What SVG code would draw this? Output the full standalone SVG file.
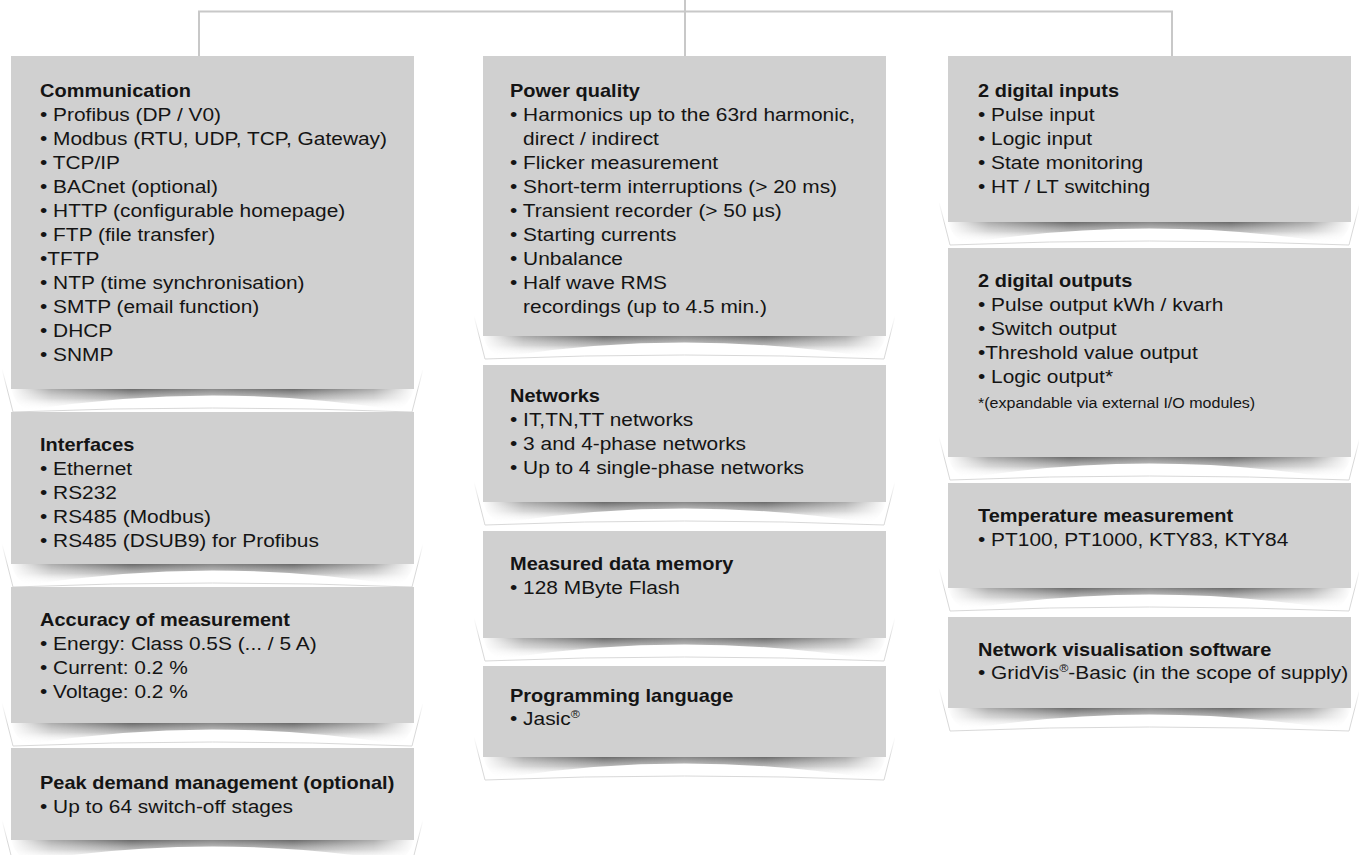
<svg xmlns="http://www.w3.org/2000/svg" xmlns:xlink="http://www.w3.org/1999/xlink" width="1359" height="855" viewBox="0 0 1359 855">
<style>
.box{fill:#d0d0d0}
.txt{font-family:"Liberation Sans",Arial,sans-serif;font-size:18.5px;fill:#141414}
.ttl{font-weight:bold;font-size:17.7px}
.note{font-size:14.2px}
.sup{font-size:11px}
.conn{stroke:#c8c8c8;stroke-width:2;fill:none}
</style>
<defs>
<linearGradient id="shv" x1="0" y1="0" x2="0" y2="1">
<stop offset="0" stop-color="#6a6a6a" stop-opacity="1"/>
<stop offset="0.45" stop-color="#9a9a9a" stop-opacity="0.7"/>
<stop offset="1" stop-color="#ffffff" stop-opacity="0"/>
</linearGradient>
<linearGradient id="shh" x1="0" y1="0" x2="1" y2="0">
<stop offset="0" stop-color="#fff" stop-opacity="0"/>
<stop offset="0.1" stop-color="#fff" stop-opacity="0.55"/>
<stop offset="0.3" stop-color="#fff" stop-opacity="1"/>
<stop offset="0.5" stop-color="#fff" stop-opacity="0.8"/>
<stop offset="0.7" stop-color="#fff" stop-opacity="1"/>
<stop offset="0.9" stop-color="#fff" stop-opacity="0.55"/>
<stop offset="1" stop-color="#fff" stop-opacity="0"/>
</linearGradient>
<linearGradient id="frg" x1="0" y1="0" x2="0" y2="1">
<stop offset="0" stop-color="#d8d8d8" stop-opacity="0"/>
<stop offset="0.5" stop-color="#d8d8d8" stop-opacity="1"/>
<stop offset="1" stop-color="#d8d8d8" stop-opacity="1"/>
</linearGradient>
<mask id="shm" maskUnits="userSpaceOnUse" x="-20" y="-30" width="443" height="70">
<rect x="0" y="-2" width="403" height="30" fill="url(#shh)"/>
</mask>
<g id="shadow">
<path d="M-9,-20 L2,23 Q201.5,15 401,23 L412,-20" fill="none" stroke="url(#frg)" stroke-width="1"/>
<path d="M0,0 H403 C400,10 395,18 385,21 Q201.5,-8 18,21 C8,18 3,10 0,0 Z" fill="url(#shv)" mask="url(#shm)"/>
</g>
</defs>

<g id="connectors">
<path class="conn" d="M685,0 V56 M199,56 V11.5 H1172 V56"/>
</g>

<g id="n-communication">
<use href="#shadow" x="11" y="389"/>
<rect class="box" x="11" y="56" width="403" height="333"/>
<text class="txt" transform="translate(40,97) scale(1.13,1)">
<tspan class="ttl" x="0" y="0">Communication</tspan>
<tspan x="0" y="24">• Profibus (DP / V0)</tspan>
<tspan x="0" y="48">• Modbus (RTU, UDP, TCP, Gateway)</tspan>
<tspan x="0" y="72">• TCP/IP</tspan>
<tspan x="0" y="96">• BACnet (optional)</tspan>
<tspan x="0" y="120">• HTTP (configurable homepage)</tspan>
<tspan x="0" y="144">• FTP (file transfer)</tspan>
<tspan x="0" y="168">•TFTP</tspan>
<tspan x="0" y="192">• NTP (time synchronisation)</tspan>
<tspan x="0" y="216">• SMTP (email function)</tspan>
<tspan x="0" y="240">• DHCP</tspan>
<tspan x="0" y="264">• SNMP</tspan>
</text>
</g>

<g id="n-interfaces">
<use href="#shadow" x="11" y="564"/>
<rect class="box" x="11" y="412" width="403" height="152"/>
<text class="txt" transform="translate(40,451) scale(1.13,1)">
<tspan class="ttl" x="0" y="0">Interfaces</tspan>
<tspan x="0" y="24">• Ethernet</tspan>
<tspan x="0" y="48">• RS232</tspan>
<tspan x="0" y="72">• RS485 (Modbus)</tspan>
<tspan x="0" y="96">• RS485 (DSUB9) for Profibus</tspan>
</text>
</g>

<g id="n-accuracy">
<use href="#shadow" x="11" y="723"/>
<rect class="box" x="11" y="587" width="403" height="136"/>
<text class="txt" transform="translate(40,626) scale(1.13,1)">
<tspan class="ttl" x="0" y="0">Accuracy of measurement</tspan>
<tspan x="0" y="24">• Energy: Class 0.5S (... / 5 A)</tspan>
<tspan x="0" y="48">• Current: 0.2 %</tspan>
<tspan x="0" y="72">• Voltage: 0.2 %</tspan>
</text>
</g>

<g id="n-peak">
<use href="#shadow" x="11" y="840"/>
<rect class="box" x="11" y="748" width="403" height="92"/>
<text class="txt" transform="translate(40,789) scale(1.13,1)">
<tspan class="ttl" x="0" y="0">Peak demand management (optional)</tspan>
<tspan x="0" y="24">• Up to 64 switch-off stages</tspan>
</text>
</g>

<g id="n-power">
<use href="#shadow" x="483" y="336"/>
<rect class="box" x="483" y="56" width="403" height="280"/>
<text class="txt" transform="translate(510,97) scale(1.13,1)">
<tspan class="ttl" x="0" y="0">Power quality</tspan>
<tspan x="0" y="24">• Harmonics up to the 63rd harmonic,</tspan>
<tspan x="11.6" y="48">direct / indirect</tspan>
<tspan x="0" y="72">• Flicker measurement</tspan>
<tspan x="0" y="96">• Short-term interruptions (&gt; 20 ms)</tspan>
<tspan x="0" y="120">• Transient recorder (&gt; 50 µs)</tspan>
<tspan x="0" y="144">• Starting currents</tspan>
<tspan x="0" y="168">• Unbalance</tspan>
<tspan x="0" y="192">• Half wave RMS</tspan>
<tspan x="11.6" y="216">recordings (up to 4.5 min.)</tspan>
</text>
</g>

<g id="n-networks">
<use href="#shadow" x="483" y="502"/>
<rect class="box" x="483" y="365" width="403" height="137"/>
<text class="txt" transform="translate(510,402) scale(1.13,1)">
<tspan class="ttl" x="0" y="0">Networks</tspan>
<tspan x="0" y="24">• IT,TN,TT networks</tspan>
<tspan x="0" y="48">• 3 and 4-phase networks</tspan>
<tspan x="0" y="72">• Up to 4 single-phase networks</tspan>
</text>
</g>

<g id="n-memory">
<use href="#shadow" x="483" y="638"/>
<rect class="box" x="483" y="531" width="403" height="107"/>
<text class="txt" transform="translate(510,570) scale(1.13,1)">
<tspan class="ttl" x="0" y="0">Measured data memory</tspan>
<tspan x="0" y="24">• 128 MByte Flash</tspan>
</text>
</g>

<g id="n-programming">
<use href="#shadow" x="483" y="757"/>
<rect class="box" x="483" y="666" width="403" height="91"/>
<text class="txt" transform="translate(510,702) scale(1.13,1)">
<tspan class="ttl" x="0" y="0">Programming language</tspan>
<tspan x="0" y="23">• Jasic</tspan><tspan class="sup" dy="-7">®</tspan>
</text>
</g>

<g id="n-inputs">
<use href="#shadow" x="948" y="222"/>
<rect class="box" x="948" y="56" width="403" height="166"/>
<text class="txt" transform="translate(978,97) scale(1.13,1)">
<tspan class="ttl" x="0" y="0">2 digital inputs</tspan>
<tspan x="0" y="24">• Pulse input</tspan>
<tspan x="0" y="48">• Logic input</tspan>
<tspan x="0" y="72">• State monitoring</tspan>
<tspan x="0" y="96">• HT / LT switching</tspan>
</text>
</g>

<g id="n-outputs">
<use href="#shadow" x="948" y="457"/>
<rect class="box" x="948" y="248" width="403" height="209"/>
<text class="txt" transform="translate(978,287) scale(1.13,1)">
<tspan class="ttl" x="0" y="0">2 digital outputs</tspan>
<tspan x="0" y="24">• Pulse output kWh / kvarh</tspan>
<tspan x="0" y="48">• Switch output</tspan>
<tspan x="0" y="72">•Threshold value output</tspan>
<tspan x="0" y="96">• Logic output*</tspan>
<tspan class="note" x="0" y="121">*(expandable via external I/O modules)</tspan>
</text>
</g>

<g id="n-temperature">
<use href="#shadow" x="948" y="588"/>
<rect class="box" x="948" y="483" width="403" height="105"/>
<text class="txt" transform="translate(978,522) scale(1.13,1)">
<tspan class="ttl" x="0" y="0">Temperature measurement</tspan>
<tspan x="0" y="24">• PT100, PT1000, KTY83, KTY84</tspan>
</text>
</g>

<g id="n-netvis">
<use href="#shadow" x="948" y="708"/>
<rect class="box" x="948" y="617" width="403" height="91"/>
<text class="txt" transform="translate(978,656) scale(1.13,1)">
<tspan class="ttl" x="0" y="0">Network visualisation software</tspan>
<tspan x="0" y="23">• GridVis</tspan><tspan class="sup" dy="-7">®</tspan><tspan dy="7">-Basic (in the scope of supply)</tspan>
</text>
</g>
</svg>
